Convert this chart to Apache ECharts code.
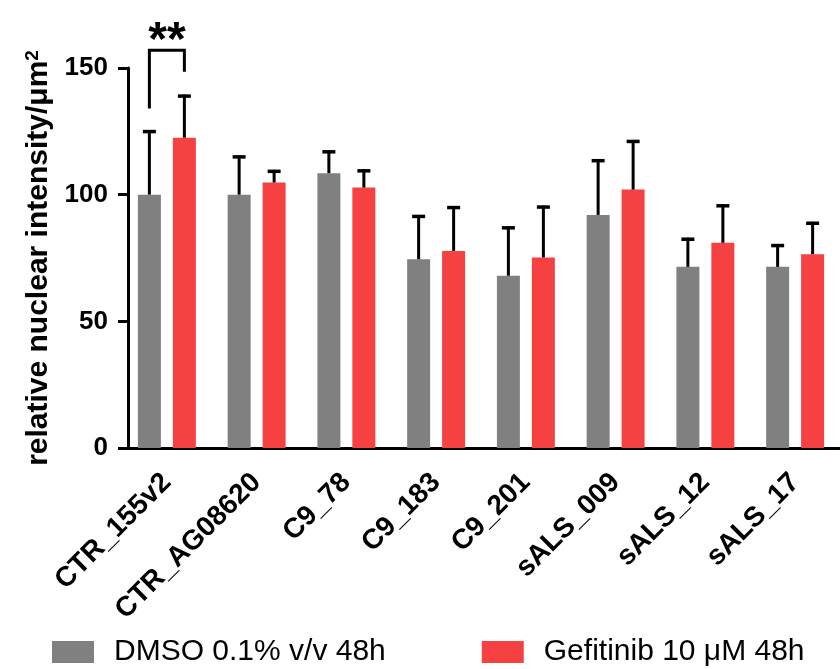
<!DOCTYPE html>
<html>
<head>
<meta charset="utf-8">
<script src="https://cdn.jsdelivr.net/npm/echarts@6/dist/echarts.min.js"></script>
<style>html,body{margin:0;padding:0;background:#fff}#c{width:840px;height:669px}</style>
</head>
<body>
<div id="c"></div>
<script>
const categories = ['CTR_155v2','CTR_AG08620','C9_78','C9_183','C9_201','sALS_009','sALS_12','sALS_17'];
const dmsoMean = [100, 100, 108.5, 74.5, 68, 92, 71.5, 71.5];
const dmsoSD   = [25.5, 15.5, 9, 17.5, 19.5, 22, 11.5, 9];
const gefMean  = [122.5, 104.8, 102.8, 77.8, 75.2, 102, 81, 76.5];
const gefSD    = [17, 5, 7.2, 17.7, 20.5, 19.6, 15.2, 12.8];
const yTicks = [0, 50, 100, 150];
const seriesNames = ['DMSO 0.1% v/v 48h', 'Gefitinib 10 \u03bcM 48h'];
// significance bracket: category index, left foot, right foot, top, label
const sigCategory = 0;
const sigLeft = 134, sigRight = 148.5, sigTop = 157, sigLabelY = 160.5;
const sigLabel = '**';

const FONT = 'Liberation Sans, Arial, sans-serif';
const GRAY = '#808080', RED = '#f54141';
const BAR_W = 23, HALF = 17.5;

function errRender(off) {
  return function (params, api) {
    const x = api.value(0), v = api.value(1), sd = api.value(2);
    const b = api.coord([x, v]);
    const t = api.coord([x, v + sd]);
    const cx = b[0] + off;
    return {
      type: 'group',
      children: [
        {type: 'line', shape: {x1: cx, y1: b[1], x2: cx, y2: t[1]}, style: {stroke: '#000', lineWidth: 3}},
        {type: 'line', shape: {x1: cx - 6.5, y1: t[1] + 1.5, x2: cx + 6.5, y2: t[1] + 1.5}, style: {stroke: '#000', lineWidth: 3.5}}
      ]
    };
  };
}

const chart = echarts.init(document.getElementById('c'));
chart.setOption({
  animation: false,
  textStyle: {fontFamily: FONT},
  grid: {left: 122, right: -17, top: 68, bottom: 221, containLabel: false},
  legend: {
    data: seriesNames,
    left: 47, top: 632,
    itemWidth: 42, itemHeight: 22, itemGap: 96,
    icon: 'rect',
    textStyle: {fontSize: 30, color: '#000', fontFamily: FONT, padding: [0, 0, 0, 15]}
  },
  xAxis: {
    type: 'category',
    data: categories,
    axisLine: {lineStyle: {color: '#000', width: 3}},
    axisTick: {alignWithLabel: true, length: 10, lineStyle: {color: '#000', width: 3}},
    axisLabel: {rotate: 45, interval: 0, fontSize: 28, fontWeight: 'bold', color: '#000', margin: 30, fontFamily: FONT}
  },
  yAxis: {
    type: 'value',
    min: yTicks[0], max: yTicks[yTicks.length - 1], interval: 50,
    offset: -6,
    name: 'relative nuclear intensity/\u03bcm{sup|2}',
    nameLocation: 'middle',
    nameGap: 74,
    nameTextStyle: {
      fontSize: 30, fontWeight: 'bold', color: '#000', fontFamily: FONT,
      rich: {sup: {fontSize: 19, fontWeight: 'bold', color: '#000', verticalAlign: 'top', fontFamily: FONT}}
    },
    splitLine: {show: false},
    axisLine: {show: true, lineStyle: {color: '#000', width: 3}},
    axisTick: {show: true, length: 10, lineStyle: {color: '#000', width: 3}},
    axisLabel: {fontSize: 26, fontWeight: 'bold', color: '#000', margin: 20, fontFamily: FONT}
  },
  series: [
    {name: seriesNames[0], type: 'bar', data: dmsoMean, barWidth: BAR_W, barGap: '52%', itemStyle: {color: GRAY}},
    {name: seriesNames[1], type: 'bar', data: gefMean, barWidth: BAR_W, barGap: '52%', itemStyle: {color: RED}},
    {type: 'custom', z: 5, clip: false, renderItem: errRender(-HALF),
     data: dmsoMean.map((v, i) => [i, v, dmsoSD[i]])},
    {type: 'custom', z: 5, clip: false, renderItem: errRender(HALF),
     data: gefMean.map((v, i) => [i, v, gefSD[i]])},
    {type: 'custom', z: 6, clip: false,
     data: [[sigCategory, sigLeft, sigRight, sigTop, sigLabelY]],
     renderItem: function (params, api) {
       const c = api.value(0);
       const l = api.coord([c, api.value(1)]);
       const r = api.coord([c, api.value(2)]);
       const t = api.coord([c, api.value(3)]);
       const s = api.coord([c, api.value(4)]);
       const xl = l[0] - HALF, xr = l[0] + HALF;
       return {
         type: 'group',
         children: [
           {type: 'polyline', shape: {points: [[xl, l[1]], [xl, t[1]], [xr, t[1]], [xr, r[1]]]},
            style: {stroke: '#000', lineWidth: 3, fill: null}},
           {type: 'text', x: l[0], y: s[1],
            style: {text: sigLabel, fontSize: 48, fontWeight: 'bold', fontFamily: FONT, fill: '#000',
                    align: 'center', verticalAlign: 'middle'}}
         ]
       };
     }}
  ]
});
</script>
</body>
</html>
